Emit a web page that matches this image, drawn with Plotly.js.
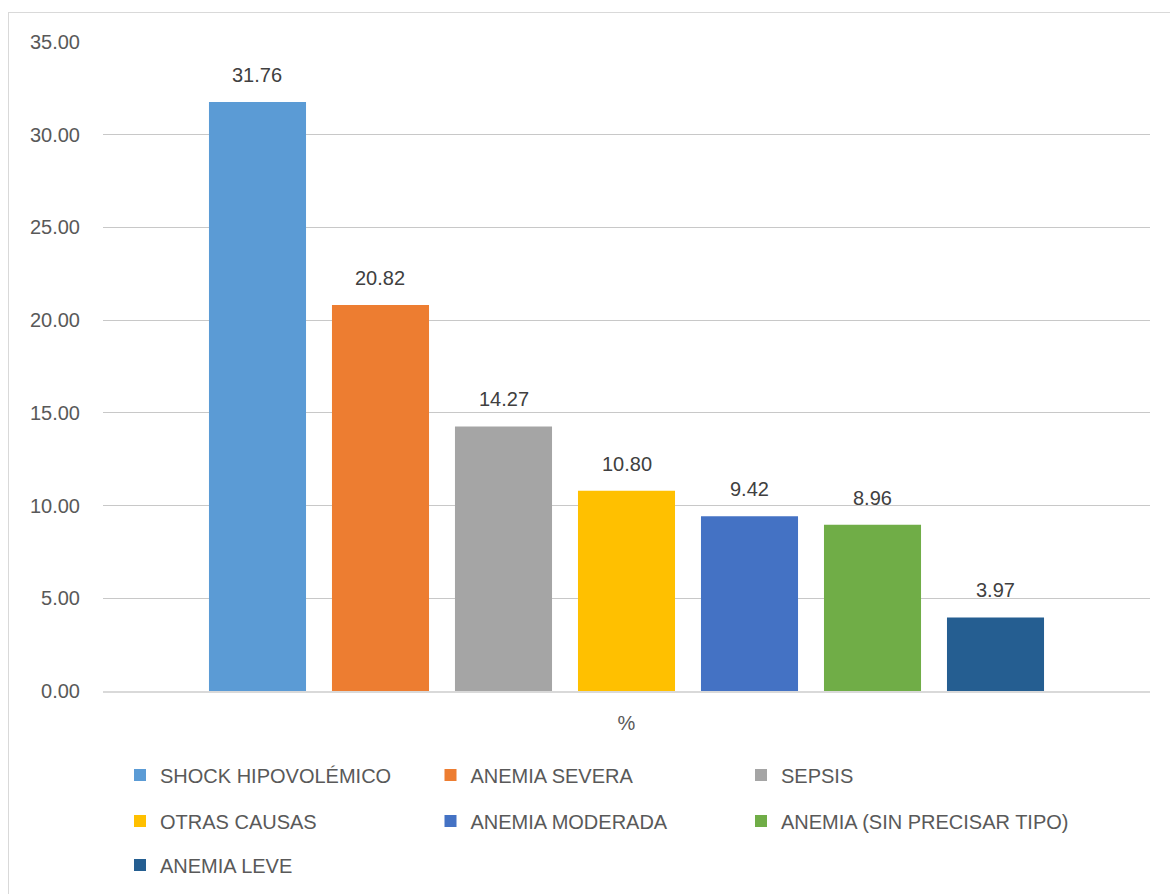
<!DOCTYPE html>
<html>
<head>
<meta charset="utf-8">
<script src="https://cdn.plot.ly/plotly-3.0.1.min.js"></script>
<style>
  html, body { margin: 0; padding: 0; background: #fff; overflow: hidden; }
  #chart { position: absolute; left: 0; top: 0; width: 1170px; height: 894px; }
  #frame { position: absolute; left: 8px; top: 12px; width: 1200px; height: 950px;
           border: 1px solid #d9d9d9; pointer-events: none; }
</style>
</head>
<body>
<div id="chart"></div>
<div id="frame"></div>
<script>
// ---- data ----
const seriesNames = [
  "SHOCK HIPOVOLÉMICO",
  "ANEMIA SEVERA",
  "SEPSIS",
  "OTRAS CAUSAS",
  "ANEMIA MODERADA",
  "ANEMIA (SIN PRECISAR TIPO)",
  "ANEMIA LEVE"
];
const seriesValues = [31.76, 20.82, 14.27, 10.80, 9.42, 8.96, 3.97];
const seriesColors = ["#5B9BD5", "#ED7D31", "#A5A5A5", "#FFC000", "#4472C4", "#70AD47", "#255E91"];
const categoryLabel = "%";
const yTickValues = [0, 5, 10, 15, 20, 25, 30, 35];

const FONT = "'Liberation Sans', Arial, sans-serif";

// legend grid: 3 columns, rows filled left to right
const legendColX = [120, 430.5, 741];     // px from left of page
const legendRowY = [775, 821, 865];       // px from top of page

const legendIds = seriesNames.map((n, i) => i === 0 ? "legend" : "legend" + (i + 1));

const traces = seriesNames.map((name, i) => ({
  type: "bar",
  name: name,
  x: [name],
  y: [seriesValues[i]],
  marker: { color: seriesColors[i], line: { width: 0 } },
  legend: legendIds[i],
  hoverinfo: "name+y"
}));

const annotations = seriesNames.map((name, i) => ({
  x: name,
  y: seriesValues[i],
  xref: "x",
  yref: "y",
  text: seriesValues[i].toFixed(2),
  showarrow: false,
  yanchor: "bottom",
  yshift: 14,
  font: { family: FONT, size: 20, color: "#404040" }
}));

const W = 1170, H = 894;

const layout = {
  width: W,
  height: H,
  margin: { l: 103, r: 20, t: 42, b: 203 },
  paper_bgcolor: "#ffffff",
  plot_bgcolor: "#ffffff",
  font: { family: FONT, size: 20, color: "#595959" },
  barmode: "overlay",
  bargap: 0.211,
  showlegend: true,
  xaxis: {
    type: "category",
    categoryorder: "array",
    categoryarray: seriesNames,
    range: [-1.256, 7.256],
    showticklabels: false,
    ticks: "",
    showgrid: false,
    showline: true,
    linecolor: "#d9d9d9",
    linewidth: 2,
    zeroline: false,
    fixedrange: true,
    title: { text: categoryLabel, standoff: 24, font: { family: FONT, size: 20, color: "#595959" } }
  },
  yaxis: {
    range: [0, 35],
    tickvals: yTickValues,
    tickformat: ".2f",
    ticks: "",
    ticklabelstandoff: 22,
    showgrid: true,
    gridcolor: "#c8c8c8",
    gridwidth: 1,
    showline: false,
    zeroline: false,
    fixedrange: true,
    tickfont: { family: FONT, size: 20, color: "#595959" }
  },
  annotations: annotations
};

legendIds.forEach((id, i) => {
  const col = i % 3, row = Math.floor(i / 3);
  layout[id] = {
    orientation: "h",
    xref: "container",
    yref: "container",
    x: legendColX[col] / W,
    y: 1 - legendRowY[row] / H,
    xanchor: "left",
    yanchor: "middle",
    itemclick: false,
    itemdoubleclick: false,
    font: { family: FONT, size: 20, color: "#595959" },
    bgcolor: "rgba(0,0,0,0)"
  };
});

Plotly.newPlot("chart", traces, layout, { displayModeBar: false, responsive: false });
</script>
</body>
</html>
